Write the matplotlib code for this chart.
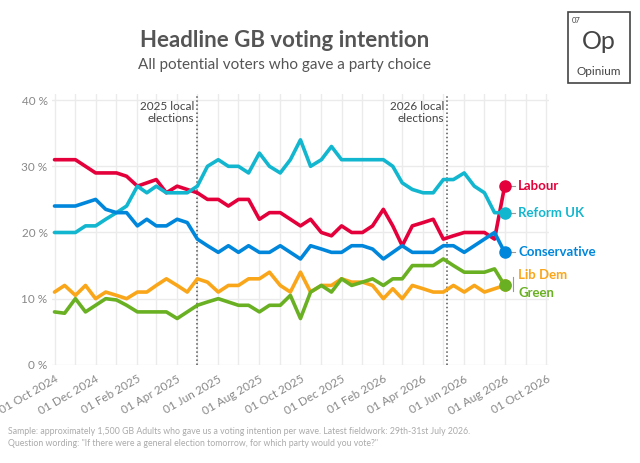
import numpy as np
import pandas as pd
import matplotlib.pyplot as plt
import matplotlib.dates as mdates
from matplotlib.patches import Rectangle

plt.rcParams['font.family'] = ['Lato', 'DejaVu Sans']

# fieldwork waves, roughly every two weeks
dates = pd.to_datetime([
    "2024-10-01", "2024-10-16", "2024-11-01", "2024-11-16", "2024-12-01", "2024-12-16",
    "2025-01-01", "2025-01-16", "2025-02-01", "2025-02-15", "2025-03-01", "2025-03-16",
    "2025-04-01", "2025-04-16", "2025-05-01", "2025-05-16", "2025-06-01", "2025-06-16",
    "2025-07-01", "2025-07-16", "2025-08-01", "2025-08-16", "2025-09-01", "2025-09-16",
    "2025-10-01", "2025-10-16", "2025-11-01", "2025-11-16", "2025-12-01", "2025-12-16",
    "2026-01-01", "2026-01-16", "2026-02-01", "2026-02-15", "2026-03-01", "2026-03-16",
    "2026-04-01", "2026-04-16", "2026-05-01", "2026-05-16", "2026-06-01", "2026-06-16",
    "2026-07-01", "2026-07-16", "2026-07-31"])

labour = [31, 31, 31, 30, 29, 29, 29, 28.5, 27, 27.5, 28, 26, 27, 26.5, 26, 25, 25, 24, 25, 25,
          22, 23, 23, 22, 21, 22, 20, 19.5, 21, 20, 20, 21, 23.5, 21, 18, 21, 21.5, 22, 19, 19.5,
          20, 20, 20, 19, 27]
reform = [20, 20, 20, 21, 21, 22, 23, 24, 27, 26, 27, 26, 26, 26, 27, 30, 31, 30, 30, 29,
          32, 30, 29, 31, 34, 30, 31, 33, 31, 31, 31, 31, 31, 30, 27.5, 26.5, 26, 26, 28, 28,
          29, 27, 26, 23, 23]
conservative = [24, 24, 24, 24.5, 25, 23.5, 23, 23, 21, 22, 21, 21, 22, 21.5, 19, 18, 17, 18, 17, 18,
                17, 17, 18, 17, 16, 18, 17.5, 17, 17, 18, 18, 17.5, 16, 17, 18, 17, 17, 17, 18, 18,
                17, 18, 19, 20, 17]
libdem = [11, 12, 10.5, 12, 10, 11, 10.5, 10, 11, 11, 12, 13, 12, 11, 13, 12.5, 11, 12, 12, 13,
          13, 14, 12, 11, 14, 11, 12, 12, 13, 12.5, 12.5, 12, 10, 11.5, 10, 12, 11.5, 11, 11, 12,
          11, 12, 11, 11.5, 12]
green = [8, 7.8, 10, 8, 9, 10, 9.8, 9, 8, 8, 8, 8, 7, 8, 9, 9.5, 10, 9.5, 9, 9,
         8, 9, 9, 10.5, 7, 11, 12, 11, 13, 12, 12.5, 13, 12, 13, 13, 15, 15, 15, 16, 15,
         14, 14, 14, 14.5, 12]

series = [("Labour", labour, "#E4003B", 27),
          ("Reform UK", reform, "#12B6CF", 23),
          ("Conservative", conservative, "#0087DC", 17),
          ("Lib Dem", libdem, "#FAA61A", 13.6),
          ("Green", green, "#6AB023", 10.9)]

fig = plt.figure(figsize=(6.4, 4.63), dpi=100)
ax = fig.add_axes([0.082, 0.212, 0.776, 0.586])

for name, vals, col, ylab in series:
    ax.plot(dates, vals, color=col, lw=2.6, solid_joinstyle='round', solid_capstyle='round', zorder=3)
    ax.plot(dates[-1], vals[-1], 'o', color=col, ms=8, zorder=4)
    ax.text(dates[-1] + pd.Timedelta(days=20), ylab, name, color=col, fontsize=9.5,
            fontweight='bold', va='center', ha='left')
# leader ticks for the end labels
for name, vals, col, ylab in series[:3]:
    ax.plot([dates[-1] + pd.Timedelta(days=9), dates[-1] + pd.Timedelta(days=16)], [ylab, ylab],
            color='#999999', lw=0.8, clip_on=False)
ax.plot([dates[-1] + pd.Timedelta(days=12)] * 2, [11.2, 13.2], color='#999999', lw=0.8, clip_on=False)

# election markers
for d, lab in [("2025-05-01", "2025 local\nelections"), ("2026-05-07", "2026 local\nelections")]:
    ax.axvline(pd.Timestamp(d), color='#555555', ls=':', lw=1.1, zorder=2)
    ax.text(pd.Timestamp(d) - pd.Timedelta(days=5), 39.8, lab, ha='right', va='top',
            fontsize=8.5, color='#444444', linespacing=1.1)

ax.set_xlim(pd.Timestamp("2024-09-28"), pd.Timestamp("2026-10-05"))
ax.set_ylim(0, 41)
ax.set_yticks([0, 10, 20, 30, 40])
ax.set_yticklabels(["0 %", "10 %", "20 %", "30 %", "40 %"])
ax.xaxis.set_major_locator(mdates.MonthLocator(bymonth=[2, 4, 6, 8, 10, 12]))
ax.xaxis.set_minor_locator(mdates.MonthLocator())
ax.xaxis.set_major_formatter(mdates.DateFormatter("%d %b %Y"))
plt.setp(ax.get_xticklabels(), rotation=30, ha='right', rotation_mode='anchor')
ax.tick_params(axis='both', which='both', length=0, labelsize=8.5, labelcolor='#888888')
ax.tick_params(axis='x', pad=6)
ax.grid(True, which='both', color='#ebebeb', lw=1)
for s in ax.spines.values():
    s.set_visible(False)

fig.text(0.445, 0.912, "Headline GB voting intention", ha='center', va='center', fontsize=16,
         fontweight='bold', color='#555555')
fig.text(0.445, 0.86, "All potential voters who gave a party choice", ha='center', va='center',
         fontsize=11, color='#555555')
fig.text(0.012, 0.055, "Sample: approximately 1,500 GB Adults who gave us a voting intention per wave. "
         "Latest fieldwork: 29th-31st July 2026.\nQuestion wording: \"If there were a general election "
         "tomorrow, for which party would you vote?\"", fontsize=6.3, color='#aaaaaa',
         va='center', linespacing=1.3)

# Opinium logo
fig.patches.append(Rectangle((0.887, 0.82), 0.098, 0.155, transform=fig.transFigure,
                             fill=False, edgecolor='#444444', lw=1.2))
fig.text(0.893, 0.955, "07", fontsize=5.5, color='#444444', va='center')
fig.text(0.936, 0.91, "Op", fontsize=18, color='#444444', ha='center', va='center')
fig.text(0.936, 0.845, "Opinium", fontsize=8.5, color='#444444', ha='center', va='center')

fig.savefig("out.png", dpi=100)
